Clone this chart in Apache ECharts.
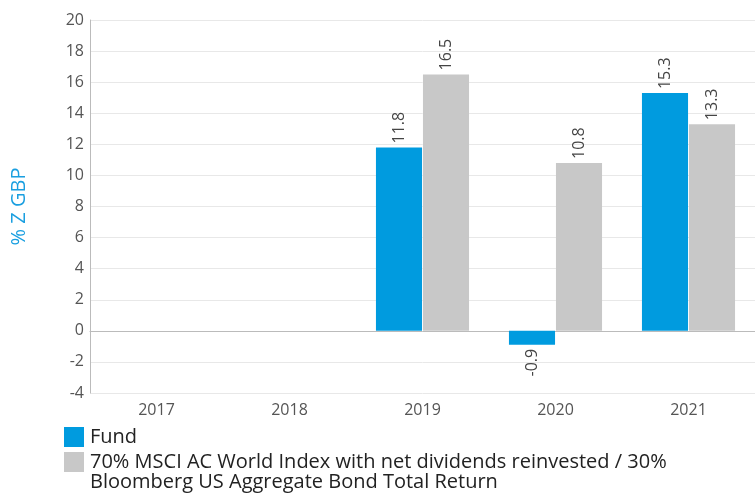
<!DOCTYPE html>
<html><head><meta charset="utf-8">
<script src="https://cdn.jsdelivr.net/npm/echarts@6/dist/echarts.min.js"></script>
<style>html,body{margin:0;padding:0;background:#fff}#c{width:755px;height:493px}</style>
</head><body><div id="c"></div>
<script>
const categories = ['2017', '2018', '2019', '2020', '2021'];
const fundValues = [null, null, 11.8, -0.9, 15.3];
const benchValues = [null, null, 16.5, 10.8, 13.3];
const seriesNames = ['Fund', '70% MSCI AC World Index with net dividends reinvested / 30% Bloomberg US Aggregate Bond Total Return'];
const yTicks = { min: -4, max: 20, interval: 2 };
const yName = '% Z GBP';

const FONT = 'Open Sans';
const chart = echarts.init(document.getElementById('c'), null, { renderer: 'canvas' });

function labelFor(v) {
  return {
    value: v,
    label: v != null && v < 0 ? { position: 'bottom', align: 'right', distance: 4 } : undefined
  };
}

const baseLabel = {
  show: true, position: 'top', rotate: 90, align: 'left', verticalAlign: 'middle',
  distance: 4, fontFamily: FONT, fontSize: 16, color: '#444'
};

const legendBase = {
  orient: 'vertical', left: 64, itemWidth: 20, itemHeight: 20, padding: 0,
  icon: 'rect', selectedMode: false
};

chart.setOption({
  animation: false,
  textStyle: { fontFamily: FONT },
  grid: { left: 90, right: -4, top: 20, bottom: 100, containLabel: false },
  legend: [
    Object.assign({}, legendBase, {
      top: 427,
      textStyle: { fontFamily: FONT, fontSize: 20, color: '#222', padding: [0, 0, 0, 1] },
      data: [seriesNames[0]]
    }),
    Object.assign({}, legendBase, {
      top: 432,
      formatter: () => '\n70% MSCI AC World Index with net dividends reinvested / 30%\nBloomberg US Aggregate Bond Total Return',
      textStyle: { fontFamily: FONT, fontSize: 20, color: '#222', lineHeight: 20, padding: [0, 0, 0, 1] },
      data: [seriesNames[1]]
    })
  ],
  xAxis: {
    type: 'category', data: categories,
    axisLine: { lineStyle: { color: '#bbb' } },
    axisTick: { show: false },
    axisLabel: { fontFamily: FONT, fontSize: 16, color: '#555', margin: 9 }
  },
  yAxis: {
    type: 'value', min: yTicks.min, max: yTicks.max, interval: yTicks.interval,
    name: yName, nameLocation: 'middle', nameGap: 61, nameRotate: 90,
    nameTextStyle: { fontFamily: FONT, fontSize: 20, color: '#1a9fe0' },
    axisLine: { show: true, lineStyle: { color: '#bbb' } },
    axisTick: { show: false },
    axisLabel: { fontFamily: FONT, fontSize: 16, color: '#555', margin: 6 },
    splitLine: { lineStyle: { color: '#e8e8e8' } }
  },
  series: [
    { name: seriesNames[0], type: 'bar', data: fundValues.map(labelFor), itemStyle: { color: '#009bdf' },
      barGap: '2%', barCategoryGap: '30%', label: baseLabel },
    { name: seriesNames[1], type: 'bar', data: benchValues.map(labelFor), itemStyle: { color: '#c8c8c8' },
      barGap: '2%', barCategoryGap: '30%', label: baseLabel }
  ]
});
</script></body></html>
